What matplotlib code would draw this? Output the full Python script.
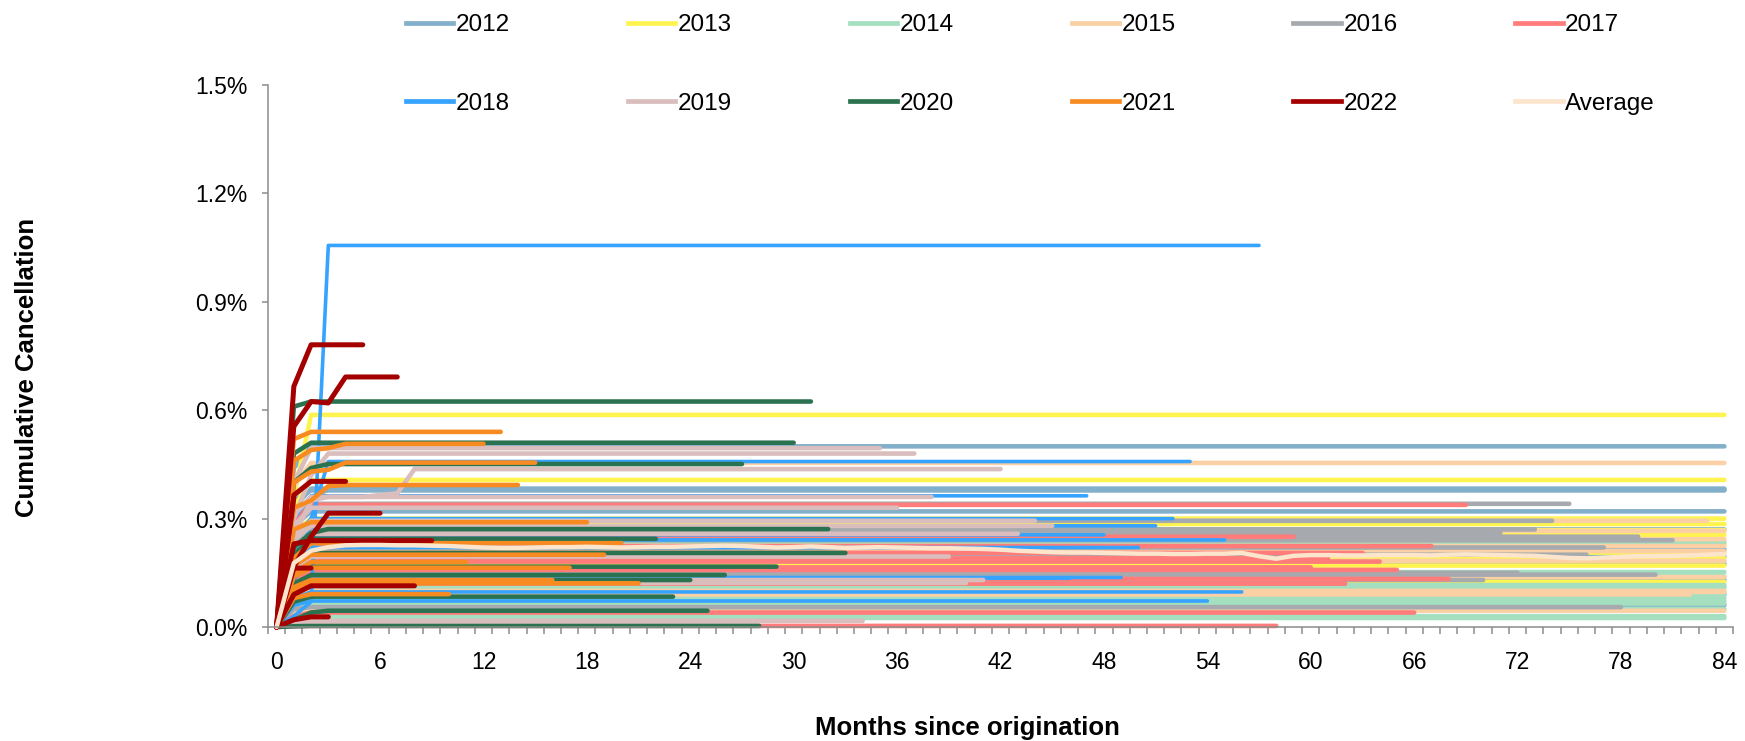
import matplotlib
matplotlib.use('Agg')
import matplotlib.pyplot as plt
from matplotlib.lines import Line2D
from matplotlib.ticker import FuncFormatter, FixedLocator

plt.rcParams['font.family'] = ['Liberation Sans', 'DejaVu Sans']

years = ['2012', '2013', '2014', '2015', '2016', '2017',
         '2018', '2019', '2020', '2021', '2022']
colors = ['#82AFC9', '#FFF44F', '#A4DFC0', '#FAD0A4', '#A6A9AE', '#FF7C7A',
          '#36A3FF', '#DABDBD', '#2B7350', '#F78B22', '#A50000']
avg_color = '#FCE5CD'

# monthly cohorts Jan..Dec: (last month observed, cumulative cancellation % in first months)
c2012 = [(84, [0, 0.44, 0.50]), (84, [0, 0.33, 0.383]), (84, [0, 0.35, 0.378]),
         (84, [0, 0.15, 0.175]), (84, [0, 0.05, 0.061]), (84, [0, 0.30, 0.36, 0.38]),
         (84, [0, 0.28, 0.32]), (84, [0, 0.24, 0.27]), (84, [0, 0.19, 0.215]),
         (84, [0, 0.11, 0.13]), (84, [0, 0.08, 0.09]), (84, [0, 0.17, 0.195])]
c2013 = [(84, [0, 0.36, 0.587]), (84, [0, 0.33, 0.407]), (84, [0, 0.25, 0.285]),
         (84, [0, 0.22, 0.255]), (84, [0, 0.18, 0.206]), (84, [0, 0.11, 0.125]),
         (84, [0, 0.24, 0.268]), (84, [0, 0.15, 0.17]), (84, [0, 0.20, 0.23]),
         (84, [0, 0.10, 0.11]), (84, [0, 0.26, 0.30]), (84, [0, 0.17, 0.19])]
c2014 = [(84, [0, 0.20, 0.235]), (84, [0, 0.13, 0.152]), (84, [0, 0.10, 0.116]),
         (84, [0, 0.07, 0.08]), (84, [0, 0.06, 0.072]), (84, [0, 0.025, 0.03]),
         (84, [0, 0.055, 0.065]), (84, [0, 0.09, 0.11]), (84, [0, 0.02, 0.025]),
         (84, [0, 0.12, 0.14]), (84, [0, 0.08, 0.09]), (84, [0, 0.04, 0.05])]
c2015 = [(84, [0, 0.39, 0.454]), (84, [0, 0.23, 0.266]), (84, [0, 0.21, 0.243]),
         (84, [0, 0.19, 0.224]), (84, [0, 0.16, 0.183]), (84, [0, 0.12, 0.138]),
         (84, [0, 0.08, 0.097]), (84, [0, 0.04, 0.045]), (84, [0, 0.18, 0.21]),
         (84, [0, 0.09, 0.10]), (83, [0, 0.25, 0.294]), (82, [0, 0.08, 0.09])]
c2016 = [(81, [0, 0.21, 0.24]), (80, [0, 0.12, 0.145]), (79, [0, 0.22, 0.25]),
         (78, [0, 0.05, 0.055]), (77, [0, 0.19, 0.22]), (76, [0, 0.17, 0.20]),
         (75, [0, 0.29, 0.341]), (74, [0, 0.25, 0.294]), (73, [0, 0.23, 0.27]),
         (72, [0, 0.13, 0.15]), (71, [0, 0.22, 0.26]), (70, [0, 0.11, 0.13])]
c2017 = [(69, [0, 0.29, 0.338]), (68, [0, 0.11, 0.133]), (67, [0, 0.19, 0.224]),
         (66, [0, 0.03, 0.04]), (65, [0, 0.13, 0.158]), (64, [0, 0.15, 0.181]),
         (63, [0, 0.17, 0.205]), (62, [0, 0.10, 0.12]), (61, [0, 0.16, 0.19]),
         (60, [0, 0.14, 0.165]), (59, [0, 0.21, 0.25]), (58, [0, 0.002, 0.003])]
c2018 = [(57, [0, 0.03, 0.07, 1.056]), (56, [0, 0.08, 0.097]), (55, [0, 0.20, 0.241]),
         (54, [0, 0.06, 0.072]), (53, [0, 0.12, 0.30, 0.458]), (52, [0, 0.25, 0.30]),
         (51, [0, 0.24, 0.28]), (50, [0, 0.18, 0.22]), (49, [0, 0.11, 0.137]),
         (48, [0, 0.21, 0.255]), (47, [0, 0.30, 0.363]), (46, [0, 0.11, 0.135])]
c2019 = [(45, [0, 0.24, 0.28]), (44, [0, 0.25, 0.294]), (43, [0, 0.22, 0.258]),
         (42, [0, 0.25, 0.35, 0.36, 0.36, 0.36, 0.365, 0.37, 0.437]),
         (41, [0, 0.11, 0.13]), (40, [0, 0.10, 0.122]), (39, [0, 0.16, 0.195]),
         (38, [0, 0.31, 0.36]), (37, [0, 0.30, 0.42, 0.48]), (36, [0, 0.28, 0.33]),
         (35, [0, 0.40, 0.495]), (34, [0, 0.01, 0.017])]
c2020 = [(33, [0, 0.17, 0.205]), (32, [0, 0.22, 0.26, 0.271]), (31, [0, 0.61, 0.624]),
         (30, [0, 0.48, 0.51]), (29, [0, 0.14, 0.167]), (28, [0, 0.002, 0.003]),
         (27, [0, 0.40, 0.44, 0.451]), (26, [0, 0.12, 0.144]), (25, [0, 0.02, 0.04, 0.045]),
         (24, [0, 0.11, 0.13]), (23, [0, 0.07, 0.084]), (22, [0, 0.20, 0.244])]
c2021 = [(21, [0, 0.10, 0.121]), (20, [0, 0.19, 0.232]), (19, [0, 0.17, 0.20]),
         (18, [0, 0.27, 0.29]), (17, [0, 0.14, 0.164]), (16, [0, 0.11, 0.13]),
         (15, [0, 0.40, 0.43, 0.435, 0.455]), (14, [0, 0.33, 0.35, 0.39, 0.393]),
         (13, [0, 0.52, 0.54]), (12, [0, 0.46, 0.49, 0.495, 0.507]),
         (11, [0, 0.15, 0.18]), (10, [0, 0.08, 0.091])]
c2022 = [(9, [0, 0.23, 0.239]), (8, [0, 0.09, 0.114]), (7, [0, 0.555, 0.624, 0.62, 0.692]),
         (6, [0, 0.167, 0.25, 0.315]), (5, [0, 0.666, 0.781]), (4, [0, 0.365, 0.403]),
         (3, [0, 0.02, 0.028]), (2, [0, 0.163, 0.163]), (1, [0, 0.36])]
cohorts = [c2012, c2013, c2014, c2015, c2016, c2017,
           c2018, c2019, c2020, c2021, c2022]

average = [0, 0.177, 0.211, 0.221, 0.226, 0.227, 0.227, 0.226, 0.226, 0.225,
           0.224, 0.222, 0.220, 0.219, 0.219, 0.220, 0.221, 0.221, 0.222, 0.221,
           0.220, 0.221, 0.222, 0.222, 0.223, 0.224, 0.225, 0.224, 0.222, 0.220,
           0.221, 0.223, 0.221, 0.219, 0.220, 0.221, 0.220, 0.219, 0.218, 0.218,
           0.217, 0.216, 0.214, 0.211, 0.209, 0.207, 0.206, 0.206, 0.205, 0.204,
           0.203, 0.203, 0.202, 0.202, 0.203, 0.203, 0.205, 0.196, 0.189, 0.197,
           0.199, 0.199, 0.198, 0.198, 0.199, 0.199, 0.199, 0.198, 0.200, 0.201,
           0.200, 0.199, 0.198, 0.197, 0.194, 0.191, 0.190, 0.192, 0.194, 0.196,
           0.196, 0.197, 0.198, 0.200, 0.202]

fig = plt.figure(figsize=(17.45, 7.41), dpi=100)
ax = fig.add_axes([268 / 1745, 1 - 627 / 741, 1465 / 1745, 542 / 741])

for year, color, group in zip(years, colors, cohorts):
    lw = 2.6 if year == '2018' else (3.6 if year == '2022' else 3.3)
    for end, vals in group:
        xs = list(range(len(vals))) + [end]
        ys = vals + [vals[-1]]
        ax.plot(xs, ys, color=color, lw=lw, solid_capstyle='round',
                solid_joinstyle='round', clip_on=False)

ax.plot(range(len(average)), average, color=avg_color, lw=3.2,
        solid_capstyle='round', clip_on=False)

ax.set_xlim(-0.5, 84.5)
ax.set_ylim(0, 1.5)
ax.set_yticks([0, 0.3, 0.6, 0.9, 1.2, 1.5])
ax.yaxis.set_major_formatter(FuncFormatter(lambda v, p: f'{v:.1f}%'))
ax.set_xticks(range(0, 85, 6))
ax.xaxis.set_minor_locator(FixedLocator([i + 0.5 for i in range(-1, 85)]))

for s in ['top', 'right']:
    ax.spines[s].set_visible(False)
for s in ['left', 'bottom']:
    ax.spines[s].set_color('#8C8C8C')
    ax.spines[s].set_linewidth(1.1)

ax.tick_params(axis='y', direction='out', length=4, width=1.1, color='#8C8C8C',
               labelsize=16.5, pad=11)
ax.tick_params(axis='x', which='major', length=0, labelsize=16.5, pad=17)
ax.tick_params(axis='x', which='minor', direction='out', length=5, width=1.1,
               color='#8C8C8C')

fig.text(27 / 1745, 1 - 367 / 741, 'Cumulative Cancellation', rotation=90,
         ha='center', va='center', fontsize=18.5, fontweight='bold')
fig.text(967 / 1745, 1 - 728 / 741, 'Months since origination',
         ha='center', va='center', fontsize=18.5, fontweight='bold')

handles = [Line2D([], [], color=c, lw=3.4) for c in colors] + \
          [Line2D([], [], color=avg_color, lw=3.4)]
labels = years + ['Average']
# legend fills by column, so interleave to get the two rows in year order
order = [i + 6 * r for i in range(6) for r in range(2)]
fig.legend([handles[i] for i in order], [labels[i] for i in order], ncol=6,
           loc='upper left', bbox_to_anchor=(406 / 1745, 1 - 14 / 741),
           frameon=False, fontsize=17.5, handlelength=1.95, handletextpad=0.1,
           columnspacing=4.85, labelspacing=2.33, borderpad=0, borderaxespad=0)

fig.savefig('out.png', dpi=100)
